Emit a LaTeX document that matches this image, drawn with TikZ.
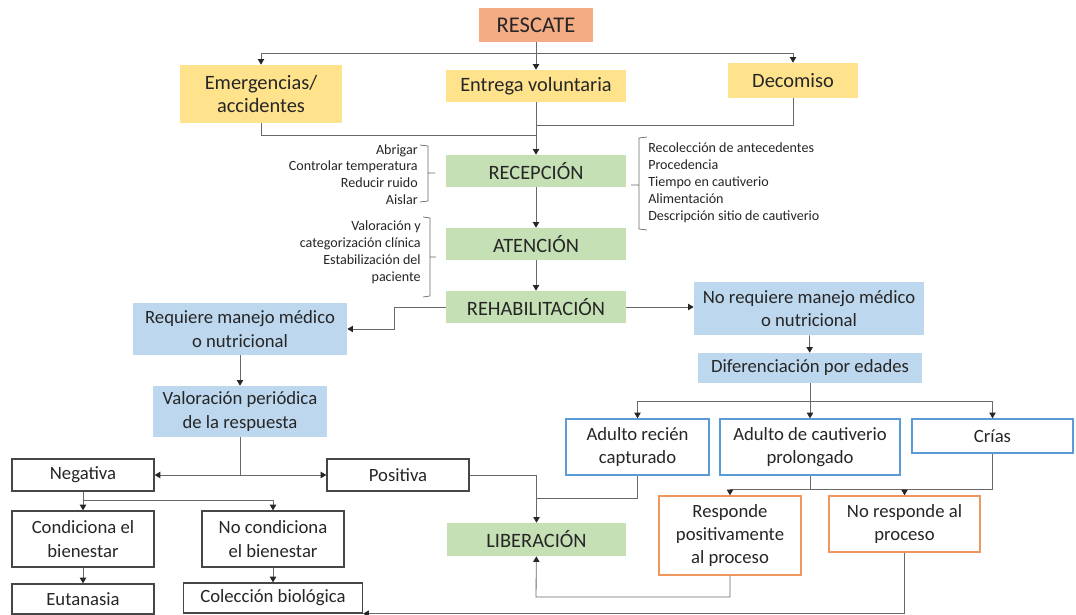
\documentclass[tikz,border=0pt]{standalone}
\usepackage{fontspec}
\setmainfont{Carlito}
\usetikzlibrary{arrows.meta}
\definecolor{txt}{RGB}{38,38,38}
\definecolor{cSal}{RGB}{244,172,132}
\definecolor{cYel}{RGB}{255,226,140}
\definecolor{cGrn}{RGB}{197,224,180}
\definecolor{cBlu}{RGB}{189,215,238}
\definecolor{cBluLine}{RGB}{91,155,213}
\definecolor{cOrg}{RGB}{240,150,95}
\definecolor{cBlk}{RGB}{70,70,70}
\definecolor{cLine}{RGB}{105,105,105}

\begin{document}
\begin{tikzpicture}[x=0.025cm,y=-0.025cm,
  every node/.style={inner sep=0pt,align=center,text=txt},
  wh/.style 2 args={minimum width=#1cm,minimum height=#2cm},
  bigtxt/.style={font=\fontsize{14.5}{17}\selectfont},
  midtxt/.style={font=\fontsize{13.3}{16.5}\selectfont},
  listtxt/.style={font=\fontsize{10}{12}\selectfont},
  yelbox/.style={bigtxt,fill=cYel},
  grnbox/.style={bigtxt,fill=cGrn},
  blubox/.style={midtxt,fill=cBlu},
  lineblu/.style={midtxt,draw=cBluLine,line width=1pt},
  lineorg/.style={midtxt,draw=cOrg,line width=1pt},
  lineblk/.style={midtxt,draw=cBlk,line width=0.9pt},
  con/.style={draw=cLine,line width=0.6pt},
  arr/.style={con,-{Triangle[length=4pt,width=4.5pt,color=txt]}},
  brk/.style={draw=cLine,line width=0.5pt}]
  \fill[white] (0,0) rectangle (1076,615);
  \useasboundingbox (0,0) rectangle (1076,615);

  % origen del animal
  \node[fill=cSal,font=\fontsize{16}{19}\selectfont,wh={2.825}{0.85}] (rescate) at (536,25) {RESCATE};
  \node[yelbox,wh={4.05}{1.45}] (emerg) at (261,94) {Emergencias/\\accidentes};
  \node[yelbox,wh={4.5}{0.8}] (entrega) at (536,86) {Entrega voluntaria};
  \node[yelbox,wh={3.225}{0.875}] (decom) at (793,80.5) {Decomiso};

  % etapas
  \node[grnbox,wh={4.5}{0.8}] (recep) at (536,171) {RECEPCIÓN};
  \node[grnbox,wh={4.5}{0.8}] (aten) at (536,244) {ATENCIÓN};
  \node[grnbox,wh={4.5}{0.8}] (rehab) at (536,307) {REHABILITACIÓN};
  \node[grnbox,wh={4.475}{0.825}] (liber) at (536.5,539.5) {LIBERACIÓN};

  % listas
  \node[listtxt,anchor=east,align=right] (cuidados) at (418,174.5) {Abrigar\\Controlar temperatura\\Reducir ruido\\Aislar};
  \node[listtxt,anchor=east,align=right] (clinica) at (421,252) {Valoración y\\categorización clínica\\Estabilización del\\paciente};
  \node[listtxt,anchor=west,align=left] (datos) at (648,183) {Recolección de antecedentes\\Procedencia\\Tiempo en cautiverio\\Alimentación\\Descripción sitio de cautiverio};
  \draw[brk] (420,145) -- (428,146) -- (428,201) -- (420,202) (428,173) -- (435,173);
  \draw[brk] (423,217) -- (430,218) -- (430,296) -- (423,297) (430,257) -- (436,257);
  \draw[brk] (647,137) -- (639,138) -- (639,229) -- (647,230) (639,185) -- (631,185);

  % manejo
  \node[blubox,wh={5.35}{1.3}] (req) at (240,329) {Requiere manejo médico\\o nutricional};
  \node[blubox,wh={5.75}{1.325}] (noreq) at (809,308.5) {No requiere manejo médico\\o nutricional};
  \node[blubox,wh={5.6}{0.75}] (difer) at (810,368) {Diferenciación por edades};
  \node[blubox,wh={4.325}{1.275}] (valor) at (240,411.5) {Valoración periódica\\de la respuesta};
  \node[lineblu,wh={3.575}{1.4}] (adrec) at (637.5,447) {Adulto recién\\capturado};
  \node[lineblu,wh={4.5}{1.4}] (adcau) at (810,447) {Adulto de cautiverio\\prolongado};
  \node[lineblu,wh={4.025}{0.85}] (crias) at (992.5,436) {Crías};
  \node[lineblk,wh={3.55}{0.8}] (nega) at (83,475) {Negativa};
  \node[lineblk,wh={3.55}{0.8}] (posi) at (398,475) {Positiva};
  \node[lineblk,wh={3.55}{1.4}] (cond) at (83,539) {Condiciona el\\bienestar};
  \node[lineblk,wh={3.55}{1.4}] (nocond) at (273,539) {No condiciona\\el bienestar};
  \node[lineblk,wh={3.55}{0.75}] (euta) at (83,599) {Eutanasia};
  \node[lineblk,wh={4.475}{0.75}] (colec) at (273,598) {Colección biológica};
  \node[lineorg,wh={3.55}{1.975}] (respo) at (730,535.5) {Responde\\positivamente\\al proceso};
  \node[lineorg,wh={3.775}{1.4}] (nores) at (904.5,524) {No responde al\\proceso};

  % conectores
  \coordinate (r1) at (536,53);
  \coordinate (r2) at (536,135);
  \coordinate (r3) at (536,125);
  \draw[con] (rescate) -- (r1);
  \draw[arr] (r1) -| (emerg);
  \draw[arr] (r1) -- (entrega);
  \draw[arr] (r1) -| (decom);
  \draw[con] (emerg) |- (r2);
  \draw[con] (decom) |- (r3);
  \draw[arr] (entrega) -- (recep);
  \draw[arr] (recep) -- (aten);
  \draw[arr] (aten) -- (rehab);
  \draw[arr] (rehab.west) -- ++(-51,0) |- (req);
  \draw[arr] (rehab.east) -- (rehab.east -| noreq.west);
  \draw[arr] (req) -- (valor);
  \draw[arr] (noreq) -- (difer);

  \coordinate (d1) at (810,401);
  \draw[con] (difer) -- (d1);
  \draw[arr] (d1) -| (adrec);
  \draw[arr] (d1) -- (adcau);
  \draw[arr] (d1) -| (crias);

  \coordinate (n1) at (83,500);
  \draw[arr] (valor) |- (nega);
  \draw[arr] (valor) |- (posi);
  \draw[arr] (nega) -- (cond);
  \draw[arr] (n1) -| (nocond);
  \draw[arr] (cond) -- (euta);
  \draw[arr] (nocond) -- (colec);
  \draw[arr] (posi) -| (liber);

  \coordinate (a1) at (536,498);
  \coordinate (c1) at (810,489);
  \coordinate (c2) at (730,489);
  \coordinate (p1) at (536,597);
  \draw[con] (adrec) |- (a1);
  \draw[con] (adcau) -- (c1);
  \draw[con] (crias) |- (c2);
  \draw[arr] (c2) -- (respo);
  \draw[arr] (c1 -| nores) -- (nores);
  \draw[arr] (respo) |- (p1) -- (liber);
  \draw[arr] (nores) |- (colec.south east);
\end{tikzpicture}
\end{document}
